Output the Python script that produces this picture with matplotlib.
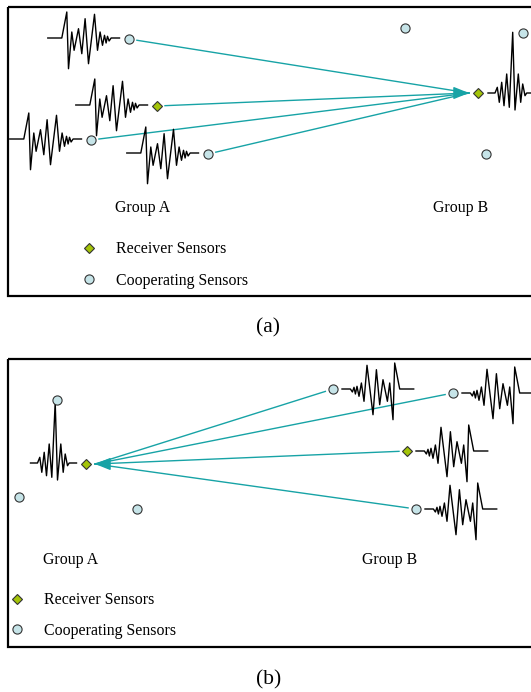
import numpy as np
import matplotlib.pyplot as plt

plt.rcParams['font.family'] = ['Liberation Serif', 'DejaVu Serif']

# sensor layout, canvas pixel units (y grows downward)
a_send_x = [129, 157, 91, 208]
a_send_y = [39, 106, 140, 154]
a_send_kind = ['coop', 'recv', 'coop', 'coop']
a_recv_x = [405, 523, 478, 486]
a_recv_y = [28, 33, 93, 154]
a_recv_kind = ['coop', 'coop', 'recv', 'coop']
a_tip = (469, 93)

b_recv_x = [57, 86, 19, 137]
b_recv_y = [400, 464, 497, 509]
b_recv_kind = ['coop', 'recv', 'coop', 'coop']
b_send_x = [333, 453, 407, 416]
b_send_y = [389, 393, 451, 509]
b_send_kind = ['coop', 'coop', 'recv', 'coop']
b_tip = (95, 464)

# recorded burst (time, amplitude in px)
burst_t = [0, 14, 19, 20.7, 24, 26.3, 30.7, 34, 37.3, 40.7, 46.7, 49.7, 52.3,
           54.7, 56.7, 58.3, 59.7, 61.3, 63.3, 71.7]
burst_amp = [0, 0, 26, -30.7, 6, -12.3, 9.3, -15.7, 19.3, -25.7, 23.7, -12.3,
             6, -7.3, 2.7, -5, 1.7, -3, 0, 0]

# focused pulse after time reversal
focus_t = [0, 7, 9.3, 11.3, 13.7, 16, 18.7, 21.3, 24.7, 27, 30.3, 32.7, 34.7,
           37, 38.7, 46]
focus_amp = [0, 0, 5.7, -9.3, 10.7, -12.7, 19, -14.3, 60.7, -17, 19, -9.3, 9,
             -2.7, 0, 0]

TEAL = '#17a3a6'
COOP_FC = '#c6e4e8'
RECV_FC = '#a4c408'
EDGE = '#333333'
FS = 11.4


def sensor(ax, x, y, kind):
    if kind == 'coop':
        ax.plot(x, y, 'o', ms=6.6, mfc=COOP_FC, mec=EDGE, mew=0.8, zorder=5)
    else:
        ax.plot(x, y, 'D', ms=5.2, mfc=RECV_FC, mec=EDGE, mew=0.8, zorder=5)


def wave(ax, x0, y0, t, amp, reverse=False):
    t = np.asarray(t, float)
    amp = np.asarray(amp, float)
    if reverse:
        t = t[-1] - t[::-1]
        amp = amp[::-1]
    ax.plot(x0 + t, y0 - amp, color='black', lw=1.0, zorder=3)


def rays(ax, xs, ys, tip):
    for x, y in zip(xs, ys):
        d = np.array([tip[0] - x, tip[1] - y], float)
        d /= np.hypot(*d)
        ax.plot([x + 8 * d[0], tip[0]], [y + 8 * d[1], tip[1]],
                color=TEAL, lw=1.0, zorder=2)
    sgn = 1 if tip[0] > np.mean(xs) else -1
    ax.annotate('', xy=tip, xytext=(tip[0] - sgn * 14, tip[1]),
                arrowprops=dict(arrowstyle='-|>,head_length=0.95,head_width=0.38',
                                color=TEAL, lw=1.0, shrinkA=0, shrinkB=0),
                zorder=4)


def legend(ax, x, y0, y1):
    sensor(ax, x, y0, 'recv')
    sensor(ax, x, y1, 'coop')
    ax.text(x + 27, y0 + 1, 'Receiver Sensors', fontsize=FS, va='center')
    ax.text(x + 27, y1 + 2, 'Cooperating Sensors', fontsize=FS, va='center')


fig = plt.figure(figsize=(5.31, 6.92), dpi=100)
ax = fig.add_axes([0, 0, 1, 1])
ax.set_xlim(0, 531)
ax.set_ylim(692, 0)
ax.axis('off')

# frames
for top, bottom in [(7, 296), (359, 647)]:
    ax.add_patch(plt.Rectangle((8, top), 540, bottom - top, fill=False,
                               lw=1.6, ec='black', zorder=1))

# (a) group A records, sends to group B receiver
for x, y, k in zip(a_send_x, a_send_y, a_send_kind):
    wave(ax, x - 9.5 - burst_t[-1], y - 1, burst_t, burst_amp)
    sensor(ax, x, y, k)
rays(ax, a_send_x, a_send_y, a_tip)
for x, y, k in zip(a_recv_x, a_recv_y, a_recv_kind):
    sensor(ax, x, y, k)
wave(ax, a_recv_x[2] + 10, a_recv_y[2], focus_t, focus_amp)
ax.text(115, 208, 'Group A', fontsize=FS, va='center')
ax.text(433, 208, 'Group B', fontsize=FS, va='center')
legend(ax, 89, 248, 279)
ax.text(268, 328, '(a)', fontsize=15.5, ha='center', va='center')

# (b) group B re-emits reversed records back to group A
for x, y, k in zip(b_send_x, b_send_y, b_send_kind):
    wave(ax, x + 9, y, burst_t, burst_amp, reverse=True)
    sensor(ax, x, y, k)
rays(ax, b_send_x, b_send_y, b_tip)
for x, y, k in zip(b_recv_x, b_recv_y, b_recv_kind):
    sensor(ax, x, y, k)
wave(ax, b_recv_x[1] - 9.5 - 46, b_recv_y[1] - 1, focus_t, focus_amp)
ax.text(43, 560, 'Group A', fontsize=FS, va='center')
ax.text(362, 560, 'Group B', fontsize=FS, va='center')
legend(ax, 17, 599, 629)
ax.text(269, 680, '(b)', fontsize=15.5, ha='center', va='center')

fig.savefig('out.png', dpi=100)
